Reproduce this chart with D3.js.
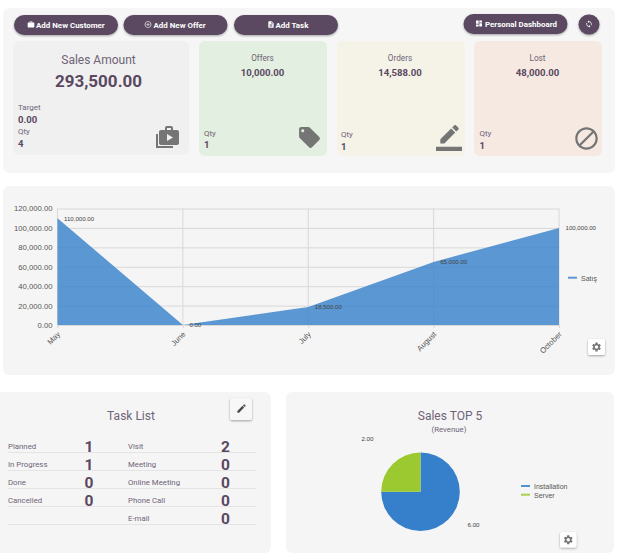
<!DOCTYPE html>
<html>
<head>
<meta charset="utf-8">
<script src="https://cdn.jsdelivr.net/npm/d3@7"></script>
<style>
  html, body { margin: 0; padding: 0; background: #fff; overflow: hidden; }
  svg { display: block; font-family: Roboto, sans-serif; }
  .chart-text { font-family: "Liberation Sans", Arial, sans-serif; }
  .axis .domain { display: none; }
</style>
</head>
<body>
<div id="chart"></div>
<script>
// chart values
const months = ['May', 'June', 'July', 'August', 'October'];
const salesValues = [110000, 0, 18500, 65000, 100000];
const salesTicks = [0, 20000, 40000, 60000, 80000, 100000, 120000];
const pieLabels = ['Installation', 'Server'];
const pieValues = [6, 2];
const statusLabels = ['Planned', 'In Progress', 'Done', 'Cancelled'];
const statusCounts = [1, 1, 0, 0];
const typeLabels = ['Visit', 'Meeting', 'Online Meeting', 'Phone Call', 'E-mail'];
const typeCounts = [2, 0, 0, 0, 0];

const PURPLE = '#5a4861';
const MUTED = '#6f6377';
const ICON_GREY = '#757575';
const fmt = d3.format(',.2f');

const icons = {
  work: 'M20 6h-4V4c0-1.11-.89-2-2-2h-4c-1.11 0-2 .89-2 2v2H4c-1.11 0-1.99.89-1.99 2L2 19c0 1.11.89 2 2 2h16c1.11 0 2-.89 2-2V8c0-1.11-.89-2-2-2zm-6 0h-4V4h4v2z',
  addCircle: 'M13 7h-2v4H7v2h4v4h2v-4h4v-2h-4V7zm-1-5C6.48 2 2 6.48 2 12s4.48 10 10 10 10-4.48 10-10S17.52 2 12 2zm0 18c-4.41 0-8-3.59-8-8s3.59-8 8-8 8 3.59 8 8-3.59 8-8 8z',
  description: 'M14 2H6c-1.1 0-1.99.9-1.99 2L4 20c0 1.1.89 2 1.99 2H18c1.1 0 2-.9 2-2V8l-6-6zm2 16H8v-2h8v2zm0-4H8v-2h8v2zm-3-5V3.5L18.5 9H13z',
  dashboard: 'M3 13h8V3H3v10zm0 8h8v-6H3v6zm10 0h8V11h-8v10zm0-18v6h8V3h-8z',
  sync: 'M12 4V1L8 5l4 4V6c3.31 0 6 2.69 6 6 0 1.01-.25 1.97-.7 2.8l1.46 1.46C19.54 15.03 20 13.57 20 12c0-4.42-3.58-8-8-8zm0 14c-3.31 0-6-2.69-6-6 0-1.01.25-1.97.7-2.8L5.24 7.74C4.46 8.97 4 10.43 4 12c0 4.42 3.58 8 8 8v3l4-4-4-4v3z',
  tag: 'M21.41 11.58l-9-9C12.05 2.22 11.55 2 11 2H4c-1.1 0-2 .9-2 2v7c0 .55.22 1.05.59 1.42l9 9c.36.36.86.58 1.41.58.55 0 1.05-.22 1.41-.59l7-7c.37-.36.59-.86.59-1.41 0-.55-.23-1.06-.59-1.42zM5.5 7C4.67 7 4 6.33 4 5.5S4.67 4 5.5 4 7 4.67 7 5.5 6.33 7 5.5 7z',
  borderColor: 'M17.75 7L14 3.25l-10 10V17h3.75l10-10zm2.96-2.96c.39-.39.39-1.02 0-1.41L18.37.29c-.39-.39-1.02-.39-1.41 0L15 2.25 18.75 6l1.96-1.96zM0 20h24v4H0z',
  block: 'M12 2C6.48 2 2 6.48 2 12s4.48 10 10 10 10-4.48 10-10S17.52 2 12 2zM4 12c0-4.42 3.58-8 8-8 1.85 0 3.55.63 4.9 1.69L5.69 16.9C4.63 15.55 4 13.85 4 12zm8 8c-1.85 0-3.55-.63-4.9-1.69L18.31 7.1C19.37 8.45 20 10.15 20 12c0 4.42-3.58 8-8 8z',
  edit: 'M3 17.25V21h3.75L17.81 9.94l-3.75-3.75L3 17.25zM20.71 7.04c.39-.39.39-1.02 0-1.41l-2.34-2.34c-.39-.39-1.02-.39-1.41 0l-1.83 1.83 3.75 3.75 1.83-1.83z',
  settings: 'M19.14 12.94c.04-.3.06-.61.06-.94 0-.32-.02-.64-.07-.94l2.03-1.58c.18-.14.23-.41.12-.61l-1.92-3.32c-.12-.22-.37-.29-.59-.22l-2.39.96c-.5-.38-1.03-.7-1.62-.94l-.36-2.54c-.04-.24-.24-.41-.48-.41h-3.84c-.24 0-.43.17-.47.41l-.36 2.54c-.59.24-1.13.57-1.62.94l-2.39-.96c-.22-.08-.47 0-.59.22L2.74 8.87c-.12.21-.08.47.12.61l2.03 1.58c-.05.3-.09.63-.09.94s.02.64.07.94l-2.03 1.58c-.18.14-.23.41-.12.61l1.92 3.32c.12.22.37.29.59.22l2.39-.96c.5.38 1.03.7 1.62.94l.36 2.54c.05.24.24.41.48.41h3.84c.24 0 .44-.17.47-.41l.36-2.54c.59-.24 1.13-.56 1.62-.94l2.39.96c.22.08.47 0 .59-.22l1.92-3.32c.12-.22.07-.47-.12-.61l-2.01-1.58zM12 15.6c-1.98 0-3.6-1.62-3.6-3.6s1.62-3.6 3.6-3.6 3.6 1.62 3.6 3.6-1.62 3.6-3.6 3.6z'
};

const svg = d3.select('#chart').append('svg')
  .attr('width', 620)
  .attr('height', 555);

const defs = svg.append('defs');
defs.append('filter')
  .attr('id', 'shadow')
  .attr('x', '-20%').attr('y', '-30%').attr('width', '140%').attr('height', '170%')
  .append('feDropShadow')
    .attr('dx', 0).attr('dy', 1).attr('stdDeviation', 1.2)
    .attr('flood-color', '#000').attr('flood-opacity', 0.35);

function box(x, y, w, h, fill, r = 6) {
  return svg.append('rect')
    .attr('x', x).attr('y', y)
    .attr('width', w).attr('height', h)
    .attr('rx', r).attr('fill', fill);
}

function label(parent, x, y, text, size, opts = {}) {
  return parent.append('text')
    .attr('x', x).attr('y', y)
    .attr('font-size', size)
    .attr('font-weight', opts.weight || 400)
    .attr('fill', opts.fill || PURPLE)
    .attr('text-anchor', opts.anchor || 'start')
    .text(text);
}

function icon(name, x, y, size, fill = ICON_GREY) {
  return svg.append('path')
    .attr('d', icons[name])
    .attr('transform', `translate(${x},${y}) scale(${size / 24})`)
    .attr('fill', fill);
}

function button(x, y, w, h, text, iconName, iconX, textX) {
  box(x, y, w, h, PURPLE, h / 2).attr('filter', 'url(#shadow)');
  icon(iconName, iconX, y + h / 2 - 4.5, 8, '#fff');
  if (text) label(svg, textX, y + h / 2 + 2.8, text, 7.95, { weight: 700, fill: '#fff' });
}

function gearButton(x, y, w, h) {
  box(x, y, w, h, '#fff', 2).attr('filter', 'url(#shadow)');
  icon('settings', x + w / 2 - 5.5, y + h / 2 - 5.5, 11);
}

// panels
box(3, 8, 612, 165, '#f6f6f6');
box(3, 186, 612, 189, '#f5f5f5');
box(-8, 392, 279, 161, '#f5f5f5');
box(286, 392, 328, 161, '#f5f5f5');

// top buttons
button(14, 15, 104, 20, 'Add New Customer', 'work', 27, 36);
button(123.5, 15, 104, 20, 'Add New Offer', 'addCircle', 144, 153.5);
button(234, 15, 104, 20, 'Add Task', 'description', 267, 275.5);
button(463.5, 14, 104, 20, 'Personal Dashboard', 'dashboard', 475, 485);
button(578.5, 14.5, 21, 20, '', 'sync', 585, 0);

// summary cards
box(13, 41, 176, 114, '#f0f0f0');
box(199, 41, 128, 115, '#e3efe0');
box(337, 41, 128, 115, '#f5f3e7');
box(474, 41, 128, 115, '#f6e9e1');

label(svg, 98.5, 63.5, 'Sales Amount', 12, { anchor: 'middle', fill: MUTED });
label(svg, 98.5, 87, '293,500.00', 17, { anchor: 'middle', weight: 700 });
label(svg, 18, 110, 'Target', 8, { fill: MUTED });
label(svg, 18, 123, '0.00', 9.5, { weight: 700 });
label(svg, 18, 134, 'Qty', 8, { fill: MUTED });
label(svg, 18, 147, '4', 9.5, { weight: 700 });

[
  { title: 'Offers', amount: '10,000.00', cx: 262.5, tx: 204, qy: 135.5, vy: 148 },
  { title: 'Orders', amount: '14,588.00', cx: 400, tx: 341, qy: 136.5, vy: 149.5 },
  { title: 'Lost', amount: '48,000.00', cx: 537.5, tx: 479.5, qy: 136, vy: 148.5 }
].forEach(c => {
  label(svg, c.cx, 61, c.title, 8.2, { anchor: 'middle', fill: MUTED });
  label(svg, c.cx, 75.5, c.amount, 9.6, { anchor: 'middle', weight: 700 });
  label(svg, c.tx, c.qy, 'Qty', 8, { fill: MUTED });
  label(svg, c.tx, c.vy, '1', 9.5, { weight: 700 });
});

// sales amount icon, stacked case with a play mark
svg.append('path')
  .attr('d', 'M156 134v14h17v-2h-15v-12z')
  .attr('fill', ICON_GREY);
icon('work', 157, 124, 24);
svg.append('path')
  .attr('d', 'M167 134v7l6-3.5z')
  .attr('fill', '#f0f0f0');
icon('tag', 297, 125, 25);
icon('borderColor', 436, 125, 26);
icon('block', 573, 125, 27);

// area chart
const plot = { left: 57.5, right: 559, top: 208.5, bottom: 325 };
const x = d3.scalePoint().domain(months).range([plot.left, plot.right]);
const y = d3.scaleLinear().domain([0, 120000]).range([plot.bottom, plot.top]);
const GRID = '#d8d8d8';
const TICK_SIZE = 7.7;

const yAxis = svg.append('g')
  .attr('class', 'axis chart-text')
  .attr('transform', `translate(${plot.left},0)`)
  .call(d3.axisLeft(y).tickValues(salesTicks).tickFormat(fmt).tickSize(0).tickPadding(5));
yAxis.selectAll('text').attr('font-size', TICK_SIZE).attr('fill', '#555');
yAxis.selectAll('line')
  .attr('x2', plot.right - plot.left)
  .attr('stroke', GRID);

const xAxis = svg.append('g')
  .attr('class', 'axis chart-text')
  .attr('transform', `translate(0,${plot.bottom})`)
  .call(d3.axisBottom(x).tickSizeOuter(0).tickSize(3));
xAxis.selectAll('line').attr('stroke', GRID);
xAxis.selectAll('text')
  .attr('font-size', TICK_SIZE)
  .attr('fill', '#555')
  .attr('text-anchor', 'end')
  .attr('y', 0)
  .attr('dy', '0.32em')
  .attr('transform', 'translate(1,8) rotate(-45)');

svg.append('g')
  .selectAll('line')
  .data(months)
  .join('line')
    .attr('x1', d => x(d))
    .attr('x2', d => x(d))
    .attr('y1', plot.top)
    .attr('y2', plot.bottom)
    .attr('stroke', GRID);

const area = d3.area()
  .x((d, i) => x(months[i]))
  .y0(y(0))
  .y1(d => y(d));

svg.append('path')
  .datum(salesValues)
  .attr('d', area)
  .attr('fill', '#347fc9')
  .attr('fill-opacity', 0.8);

svg.append('g')
  .attr('class', 'chart-text')
  .selectAll('text')
  .data(salesValues)
  .join('text')
    .attr('x', (d, i) => x(months[i]) + 6.5)
    .attr('y', d => y(d) + 2.3)
    .attr('font-size', 6.1)
    .attr('fill', '#444')
    .text(d => fmt(d));

svg.append('line')
  .attr('x1', 568).attr('x2', 577)
  .attr('y1', 277.7).attr('y2', 277.7)
  .attr('stroke', '#5b97d1').attr('stroke-width', 2);
label(svg, 581, 280.5, 'Satış', 7, { fill: '#555' }).attr('class', 'chart-text');
gearButton(588, 339, 17, 16);

// task list
label(svg, 131, 420, 'Task List', 12, { anchor: 'middle', fill: MUTED });
box(230, 398, 22, 22, '#f7f7f7', 2).attr('filter', 'url(#shadow)');
icon('edit', 236, 403, 11, '#4a4a4a');

const rowY = d3.scalePoint()
  .domain(d3.range(typeLabels.length))
  .range([452.5, 524.5]);

svg.append('g')
  .selectAll('line')
  .data(d3.range(typeLabels.length))
  .join('line')
    .attr('x1', 8).attr('x2', 256.5)
    .attr('y1', d => rowY(d)).attr('y2', d => rowY(d))
    .attr('stroke', '#e4e4e4');

function taskColumn(labels, counts, labelX, countX) {
  labels.forEach((name, i) => {
    label(svg, labelX, rowY(i) - 3.5, name, 7.8, { fill: MUTED });
    label(svg, countX, rowY(i) - 0.5, counts[i], 15.5, { anchor: 'middle', weight: 700 });
  });
}
taskColumn(statusLabels, statusCounts, 8, 89);
taskColumn(typeLabels, typeCounts, 128, 225.5);

// pie chart
label(svg, 450, 420, 'Sales TOP 5', 12, { anchor: 'middle', fill: MUTED });
label(svg, 449, 431.5, '(Revenue)', 7.8, { anchor: 'middle', fill: MUTED });

const pieColor = d3.scaleOrdinal().domain(pieLabels).range(['#3680cb', '#9bc92f']);
const radius = 39.3;
const pie = d3.pie().sort(null)(pieValues);
const arc = d3.arc().innerRadius(0).outerRadius(radius);
const labelArc = d3.arc().innerRadius(75).outerRadius(75);
const pieG = svg.append('g').attr('transform', 'translate(420.5,491.7)');

pieG.selectAll('path')
  .data(pie)
  .join('path')
    .attr('d', arc)
    .attr('fill', (d, i) => pieColor(pieLabels[i]));

// slice labels: first one sits closer to the horizontal than its mid angle
const labelDy = [-20, 0];
pieG.selectAll('text')
  .data(pie)
  .join('text')
    .attr('class', 'chart-text')
    .attr('x', d => labelArc.centroid(d)[0])
    .attr('y', (d, i) => labelArc.centroid(d)[1] + labelDy[i] + 2.3)
    .attr('text-anchor', 'middle')
    .attr('font-size', 6.2)
    .attr('fill', '#444')
    .text(d => fmt(d.value));

const pieLegend = svg.append('g')
  .attr('class', 'chart-text')
  .selectAll('g')
  .data(pieLabels)
  .join('g')
    .attr('transform', (d, i) => `translate(521,${486 + i * 8.7})`);
pieLegend.append('line')
  .attr('x2', 9)
  .attr('stroke', d => pieColor(d))
  .attr('stroke-opacity', 0.85)
  .attr('stroke-width', 2);
pieLegend.append('text')
  .attr('x', 13)
  .attr('y', 2.8)
  .attr('font-size', 7)
  .attr('fill', '#555')
  .text(d => d);

gearButton(560, 532, 16.5, 15.5);
</script>
</body>
</html>
